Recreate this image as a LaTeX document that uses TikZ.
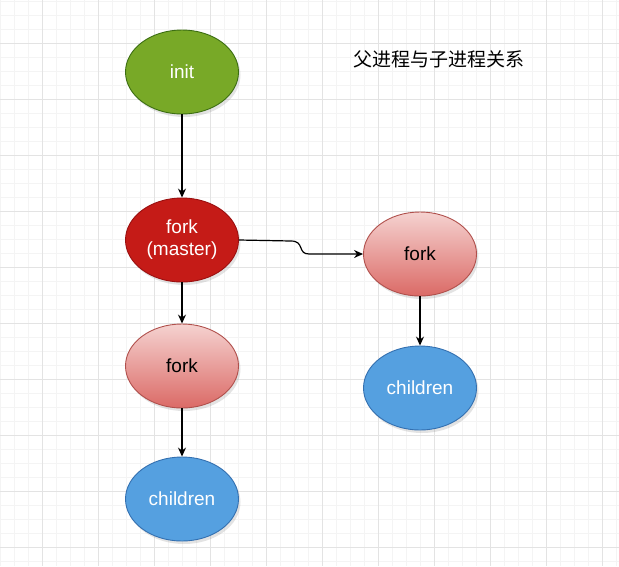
\documentclass[tikz,border=0pt]{standalone}
\usepackage{fontspec}
\setmainfont{Liberation Sans}
\newfontfamily\cjk{Noto Sans CJK SC}
\usetikzlibrary{shapes.geometric,shadows,arrows.meta}
\definecolor{gridmajor}{HTML}{E3E3E3}
\definecolor{gridminor}{HTML}{F4F4F4}
\definecolor{initfill}{HTML}{78A927}
\definecolor{initline}{HTML}{3C6E12}
\definecolor{masterfill}{HTML}{C51B17}
\definecolor{masterline}{HTML}{9A1010}
\definecolor{forktop}{HTML}{F5D2D0}
\definecolor{forkbottom}{HTML}{DB6A66}
\definecolor{forkline}{HTML}{B0504C}
\definecolor{childfill}{HTML}{55A0E0}
\definecolor{childline}{HTML}{3470B0}

\begin{document}
\begin{tikzpicture}[x=1pt,y=-1pt,
    proc/.style={ellipse, minimum width=113pt, minimum height=84pt, inner sep=0pt,
      align=center, font=\fontsize{19}{22}\selectfont, line width=0.9pt,
      drop shadow={opacity=0.22, shadow xshift=2pt, shadow yshift=-3pt}},
    initproc/.style={proc, fill=initfill, draw=initline, text=white},
    masterproc/.style={proc, fill=masterfill, draw=masterline, text=white},
    forkproc/.style={proc, top color=forktop, bottom color=forkbottom, draw=forkline, text=black},
    childproc/.style={proc, fill=childfill, draw=childline, text=white},
    arr/.style={-{Stealth[length=9pt,width=8pt]}, line width=1.2pt}]
    \useasboundingbox (0,0) rectangle (619,566);
    % grid
    \foreach \i in {0,14,...,616} \draw[gridminor, line width=0.6pt] (\i,0) -- (\i,566);
    \foreach \j in {1,15,...,565} \draw[gridminor, line width=0.6pt] (0,\j) -- (619,\j);
    \foreach \i in {42,98,...,616} \draw[gridmajor, line width=0.8pt] (\i,0) -- (\i,566);
    \foreach \j in {43,99,...,565} \draw[gridmajor, line width=0.8pt] (0,\j) -- (619,\j);

    \node[initproc] (init) at (182,72) {init};
    \node[masterproc] (mst) at (182,240) {fork\\(master)};
    \node[forkproc] (frkl) at (182,366) {fork};
    \node[childproc] (chl) at (182,499) {children};
    \node[forkproc] (frkr) at (420,254) {fork};
    \node[childproc] (chr) at (420,388) {children};
    \node[font=\cjk\fontsize{19}{22}\selectfont] (title) at (439,59) {父进程与子进程关系};

    \draw[arr] (init) -- (mst);
    \draw[arr] (mst) -- (frkl);
    \draw[arr] (frkl) -- (chl);
    \draw[arr] (frkr) -- (chr);
    \draw[arr] (mst.east) -- ++(52,1) .. controls +(14,0) and +(-12,0) .. ([xshift=-54pt]frkr.west) -- (frkr.west);
\end{tikzpicture}
\end{document}
